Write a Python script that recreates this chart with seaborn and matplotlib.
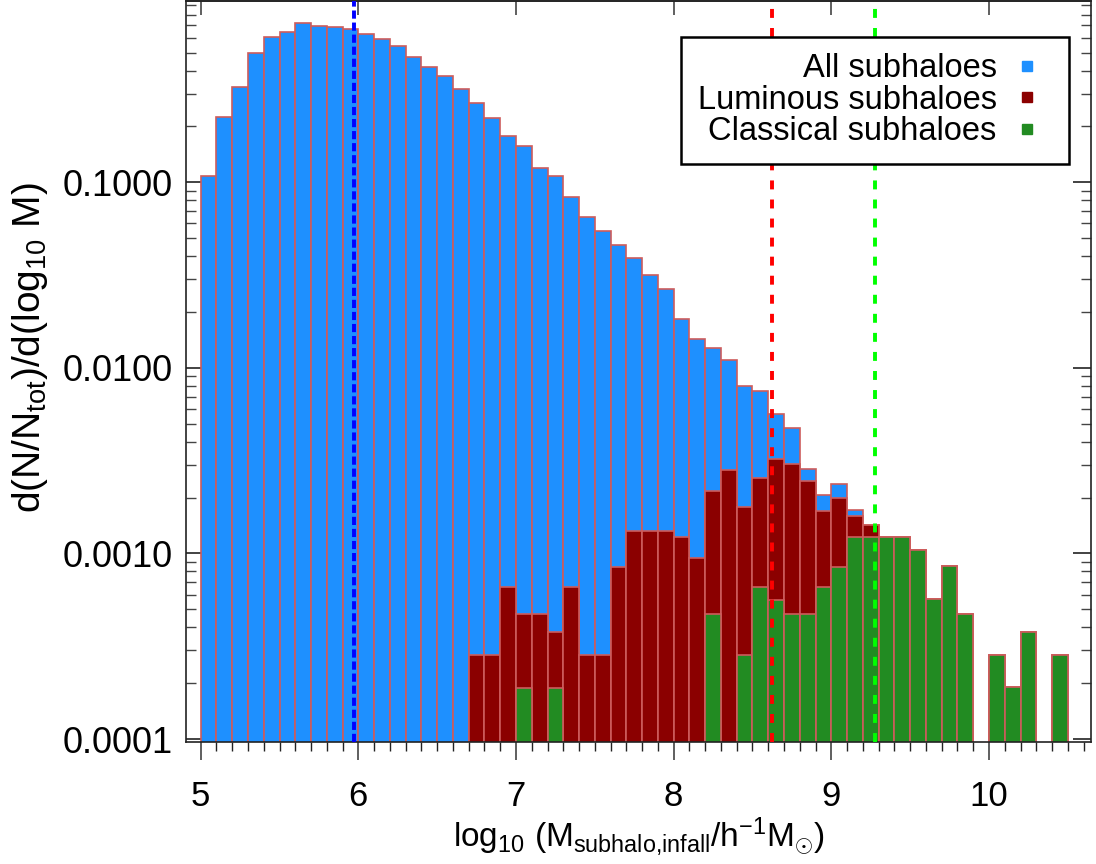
import numpy as np
import pandas as pd
import matplotlib
matplotlib.use("Agg")
import matplotlib.pyplot as plt
import seaborn as sns
from matplotlib.ticker import LogLocator, FormatStrFormatter, MultipleLocator, NullLocator, NullFormatter
from matplotlib.lines import Line2D

# ---------------- data ----------------
bin_edges = [round(5.0 + 0.1 * i, 1) for i in range(57)]   # log10 mass bins of width 0.1

all_subhaloes = [
    0.108, 0.225, 0.328, 0.497, 0.604, 0.645, 0.721, 0.692, 0.684, 0.667,   # 5.0-5.9
    0.627, 0.591, 0.540, 0.473, 0.418, 0.372, 0.318, 0.267, 0.223, 0.177,   # 6.0-6.9
    0.156, 0.120, 0.108, 0.0829, 0.0653, 0.0544, 0.0457, 0.0392, 0.0318, 0.0265,  # 7.0-7.9
    0.0183, 0.0143, 0.0128, 0.0110, 0.0080, 0.00754, 0.00567, 0.00474, 0.00284, 0.00207,  # 8.0-8.9
    0.00236, 0.00171, 0.00142, 0.00123, 0.00123, 0.00104, 0.000566, 0.000851, 0.000472, 0.0,  # 9.0-9.9
    0.000282, 0.00019, 0.000379, 0.0, 0.000282, 0.0,                         # 10.0-10.5
]

luminous_subhaloes = [
    0, 0, 0, 0, 0, 0, 0, 0, 0, 0,                                            # 5.0-5.9
    0, 0, 0, 0, 0, 0, 0, 0.000282, 0.000282, 0.000661,                       # 6.0-6.9
    0.000470, 0.000470, 0.000376, 0.000661, 0.000282, 0.000282, 0.000847, 0.00132, 0.00132, 0.00132,  # 7.0-7.9
    0.00123, 0.000944, 0.00218, 0.00283, 0.00179, 0.00254, 0.00323, 0.00302, 0.00246, 0.00169,  # 8.0-8.9
    0.00198, 0.00160, 0.00142, 0.00123, 0.00123, 0.00104, 0.000566, 0.000851, 0.000472, 0.0,  # 9.0-9.9
    0.000282, 0.00019, 0.000379, 0.0, 0.000282, 0.0,                         # 10.0-10.5
]

classical_subhaloes = [
    0, 0, 0, 0, 0, 0, 0, 0, 0, 0,                                            # 5.0-5.9
    0, 0, 0, 0, 0, 0, 0, 0, 0, 0,                                            # 6.0-6.9
    0.000188, 0, 0.000188, 0, 0, 0, 0, 0, 0, 0,                              # 7.0-7.9
    0, 0, 0.00047, 0, 0.000282, 0.000661, 0.000564, 0.00047, 0.00047, 0.000661,  # 8.0-8.9
    0.000847, 0.001225, 0.001225, 0.00123, 0.00123, 0.00104, 0.000566, 0.000851, 0.000472, 0.0,  # 9.0-9.9
    0.000282, 0.00019, 0.000379, 0.0, 0.000282, 0.0,                         # 10.0-10.5
]

median_all = 5.972
median_luminous = 8.621
median_classical = 9.277

series_labels = ["All subhaloes", "Luminous subhaloes", "Classical subhaloes"]
series_colors = ["#1E90FF", "#8B0000", "#228B22"]
line_colors = ["#0000FF", "#FF0000", "#00FF00"]
edge_color = "#CD5C5C"

# ---------------- style ----------------
sns.set_style("ticks")
plt.rcParams["font.family"] = ["Liberation Sans", "DejaVu Sans"]
plt.rcParams["mathtext.fontset"] = "custom"
plt.rcParams["mathtext.rm"] = "Liberation Sans"
plt.rcParams["mathtext.it"] = "Liberation Sans:italic"
plt.rcParams["mathtext.bf"] = "Liberation Sans:bold"
for key in ["text.color", "axes.labelcolor", "xtick.labelcolor", "ytick.labelcolor"]:
    plt.rcParams[key] = "black"

fig = plt.figure(figsize=(10.96, 8.64), dpi=100)
ax = fig.add_axes([0.16943, 0.14086, 0.82601, 0.85799])
ax.set_yscale("log", nonpositive="clip")

centers = [(a + b) / 2 for a, b in zip(bin_edges[:-1], bin_edges[1:])]
for vals, col in zip([all_subhaloes, luminous_subhaloes, classical_subhaloes], series_colors):
    df = pd.DataFrame({"mass": centers, "w": vals})
    sns.histplot(data=df, x="mass", weights="w", bins=bin_edges, ax=ax, color=col,
                 edgecolor=edge_color, linewidth=1.2, alpha=1, stat="count")

# median lines
ax.axvline(median_all, color=line_colors[0], lw=2.8, linestyle=(0, (2.1, 1.0)), zorder=3)
ax.axvline(median_luminous, color=line_colors[1], lw=2.8, linestyle=(0, (2.3, 2.6)), zorder=3)
ax.axvline(median_classical, color=line_colors[2], lw=2.8, linestyle=(0, (2.3, 2.6)), zorder=3)

ax.set_xlim(4.905, 10.647)
ax.set_ylim(0.000096, 0.948)

# axes ticks
ax.xaxis.set_major_locator(MultipleLocator(1))
ax.xaxis.set_minor_locator(MultipleLocator(0.1))
ax.tick_params(axis="x", which="major", direction="out", length=13, width=1.2,
               color="#444444", labelcolor="black", labelsize=25, pad=14, top=False)
ax.tick_params(axis="x", which="minor", direction="out", length=6.5, width=1.0,
               color="#222222", top=False)

ax.yaxis.set_major_locator(LogLocator(base=10, numticks=10))
ax.yaxis.set_minor_locator(LogLocator(base=10, subs=np.arange(2, 10), numticks=20))
ax.yaxis.set_major_formatter(FormatStrFormatter("%.4f"))
ax.yaxis.set_minor_formatter(NullFormatter())
ax.tick_params(axis="y", which="major", direction="in", length=13, width=1.2,
               color="#222222", labelcolor="black", labelsize=26, pad=9, left=True, right=True)
ax.tick_params(axis="y", which="minor", direction="in", length=7, width=1.0,
               color="#444444", left=True, right=True)

sec = ax.secondary_xaxis("top")
sec.set_xticks(range(5, 11))
sec.xaxis.set_minor_locator(NullLocator())
sec.tick_params(direction="in", length=10, width=1.2, color="#444444", labeltop=False)

for sp in list(ax.spines.values()) + list(sec.spines.values()):
    sp.set_linewidth(1.2)
    sp.set_color("#222222")

ax.set_xlabel(r"log$_{10}$ (M$_{\rm subhalo{,}infall}$/h$^{-1}$M$_{\odot}$)", fontsize=24,
              labelpad=2, color="black")
ax.set_ylabel(r"d(N/N$_{\rm tot}$)/d(log$_{10}$ M)", fontsize=28, color="black")
ax.yaxis.set_label_coords(-0.150, 0.533)

handles = [Line2D([], [], linestyle="none", marker="s", markersize=7.5,
                  markerfacecolor=c, markeredgecolor=c) for c in series_colors]
leg = ax.legend(handles, series_labels, loc="upper right", bbox_to_anchor=(0.9757, 0.9518),
                borderaxespad=0, markerfirst=False, fontsize=23.5, frameon=True,
                fancybox=False, framealpha=1, edgecolor="black", handlelength=1.6,
                handletextpad=0.12, borderpad=0.5, labelspacing=0.02)
leg.get_frame().set_linewidth(1.8)
for t in leg.get_texts():
    t.set_color("black")

fig.savefig("out.png", dpi=100)
